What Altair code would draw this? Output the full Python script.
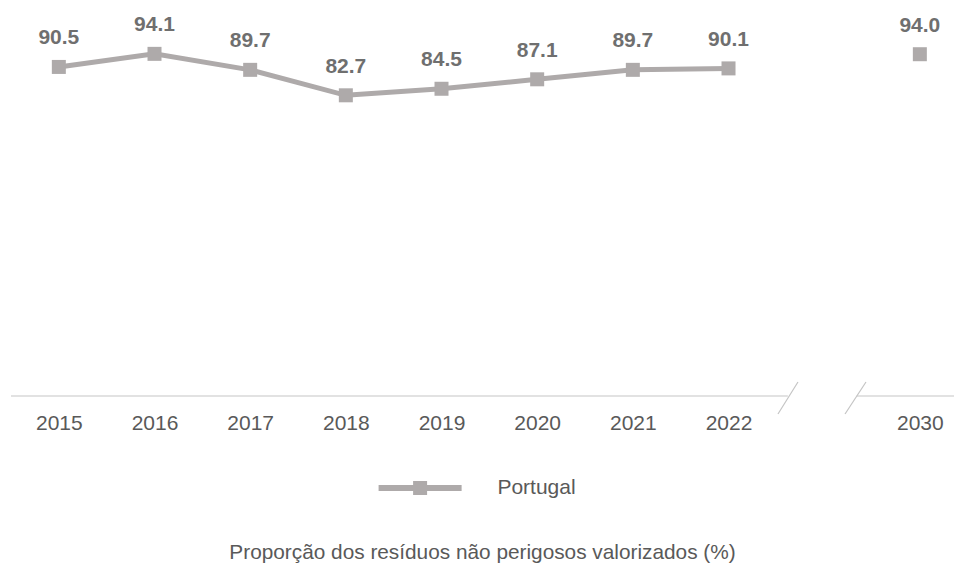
import altair as alt
import pandas as pd

# ---- data ----
CATEGORIES = ["2015", "2016", "2017", "2018", "2019", "2020", "2021", "2022", "", "2030"]
YEARS = ["2015", "2016", "2017", "2018", "2019", "2020", "2021", "2022", "2030"]
VALUES = [90.5, 94.1, 89.7, 82.7, 84.5, 87.1, 89.7, 90.1, 94.0]
KIND = ["obs"] * 8 + ["target"]
SERIES = "Portugal"
TITLE = "Proporção dos resíduos não perigosos valorizados (%)"

# ---- styles ----
FONT = "Liberation Sans"
LINE_COLOR = "#AEAAAA"
TEXT_COLOR = "#595959"
LABEL_COLOR = "#6f6f6f"
X_MIN, X_MAX = -0.5, 9.357

df = pd.DataFrame({"year": YEARS, "value": VALUES, "kind": KIND})
df["pos"] = [CATEGORIES.index(y) for y in YEARS]
df["series"] = SERIES
df["label"] = [f"{v:.1f}" for v in VALUES]

# axis line with a break between 2022 and 2030 (decoration, in scale units)
axis_seg = pd.DataFrame({"x": [X_MIN, 8.34], "x2": [7.62, X_MAX], "y": [0, 0]})
break_marks = pd.DataFrame({"x": [7.517, 8.218], "x2": [7.726, 8.437],
                            "y": [-4.95, -4.95], "y2": [3.85, 3.85]})

x_scale = alt.Scale(domain=[X_MIN, X_MAX], nice=False, zero=False)
y_scale = alt.Scale(domain=[0, 100], nice=False, zero=False)

label_expr = "[" + ",".join(f"'{c}'" for c in CATEGORIES) + "][datum.value]"
x_axis = alt.Axis(values=[CATEGORIES.index(y) for y in YEARS], labelExpr=label_expr,
                  domain=False, ticks=False, tickSize=0, grid=False, labelPadding=27,
                  labelBaseline="middle", labelFontSize=21, labelColor=TEXT_COLOR,
                  labelFont=FONT, title=None, labelAngle=0, labelFlush=False,
                  labelOverlap=False)

SYMBOL_PATH = "M-5.93,-0.43H5.93V0.43H-5.93Z M-1,-1H1V1H-1Z"
legend = alt.Legend(title=None, orient="none", legendX=398.6, legendY=445,
                    symbolType=SYMBOL_PATH, symbolSize=196, symbolFillColor=LINE_COLOR,
                    symbolStrokeWidth=0, labelFontSize=21, labelColor=TEXT_COLOR,
                    labelFont=FONT, labelOffset=66.8, padding=0)

base = alt.Chart(df)

axis_rules = alt.Chart(axis_seg).mark_rule(color="#d9d9d9", strokeWidth=1.5).encode(
    x=alt.X("x:Q", scale=x_scale, axis=x_axis), x2="x2:Q",
    y=alt.Y("y:Q", scale=y_scale, axis=None))

break_rules = alt.Chart(break_marks).mark_rule(color="#c4c4c4", strokeWidth=1.2).encode(
    x=alt.X("x:Q", scale=x_scale, axis=x_axis), x2="x2:Q",
    y=alt.Y("y:Q", scale=y_scale, axis=None), y2="y2:Q")

line = base.transform_filter("datum.kind == 'obs'").mark_line(
    color=LINE_COLOR, strokeWidth=5).encode(
    x=alt.X("pos:Q", scale=x_scale, axis=x_axis),
    y=alt.Y("value:Q", scale=y_scale, axis=None))

points = base.mark_point(shape="square", filled=True, size=196, opacity=1).encode(
    x=alt.X("pos:Q", scale=x_scale, axis=x_axis),
    y=alt.Y("value:Q", scale=y_scale, axis=None),
    color=alt.Color("series:N", scale=alt.Scale(range=[LINE_COLOR]), legend=legend))

labels = base.mark_text(dy=-22.5, baseline="alphabetic", fontSize=21, fontWeight="bold",
                        color=LABEL_COLOR, font=FONT).encode(
    x=alt.X("pos:Q", scale=x_scale, axis=x_axis),
    y=alt.Y("value:Q", scale=y_scale, axis=None),
    text="label:N")

chart = alt.layer(axis_rules, break_rules, line, points, labels).properties(
    width=943, height=363.6,
    autosize=alt.AutoSizeParams(type="none"),
    padding={"left": 3, "top": 24.4, "right": 0, "bottom": 169},
    title=alt.TitleParams(TITLE, orient="bottom", anchor="middle", fontSize=20.8, font=FONT,
                          color=TEXT_COLOR, fontWeight="normal", offset=44.5),
).configure_view(stroke=None)

chart.save("out.html", embed_options={"renderer": "svg", "actions": False})
